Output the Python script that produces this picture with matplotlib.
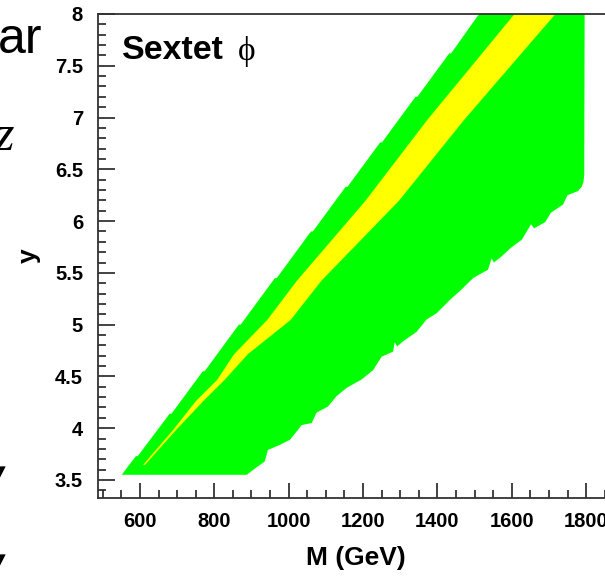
import matplotlib
matplotlib.use("Agg")
import matplotlib.pyplot as plt
from matplotlib.ticker import MultipleLocator

# Excluded region boundaries in the (M, y) plane
# outer region: left edge (bottom -> top)
green_left_y = [3.55, 3.73, 3.73, 4.14, 4.14, 4.55, 4.55, 5.00, 5.00, 5.45, 5.45,
                5.90, 5.90, 6.33, 6.33, 6.76, 6.76, 7.20, 7.20, 7.62, 7.62, 8.00]
green_left_M = [551, 589, 594, 680, 685, 769, 774, 866, 871, 963, 968,
                1060, 1065, 1153, 1158, 1246, 1251, 1341, 1346, 1432, 1437, 1512]
# outer region: right edge (top -> bottom)
green_right_y = [8.00, 6.45, 6.38, 6.33, 6.29, 6.25, 6.16, 6.08, 5.99, 5.93, 5.97, 5.82,
                 5.74, 5.66, 5.60, 5.64, 5.53, 5.45, 5.34, 5.24, 5.11, 5.05, 4.93,
                 4.84, 4.79, 4.83, 4.74, 4.69, 4.56, 4.47, 4.39, 4.31, 4.21, 4.15,
                 4.05, 4.03, 3.89, 3.84, 3.79, 3.68, 3.61, 3.55]
green_right_M = [1796, 1795, 1793, 1788, 1778, 1750, 1738, 1705, 1690, 1660, 1652, 1627,
                 1597, 1573, 1552, 1546, 1536, 1496, 1465, 1434, 1398, 1371, 1344,
                 1308, 1292, 1285, 1281, 1250, 1227, 1196, 1156, 1129, 1106, 1075,
                 1062, 1035, 1004, 977, 944, 936, 909, 887]

# inner region
yellow_y = [3.65, 3.98, 4.27, 4.47, 4.72, 5.05, 5.43, 6.20, 6.98, 8.00]
yellow_lo = [607, 686, 750, 806, 852, 941, 1021, 1205, 1371, 1605]
yellow_hi = [612, 694, 770, 826, 889, 1004, 1087, 1295, 1470, 1715]

x_ticks = [600, 800, 1000, 1200, 1400, 1600, 1800]
y_ticks = [3.5, 4, 4.5, 5, 5.5, 6, 6.5, 7, 7.5, 8]

W, H = 605, 576
fig = plt.figure(figsize=(W / 100, H / 100), dpi=100)
fig.patch.set_facecolor("white")

ax_left, ax_right_px, ax_top, ax_bottom = 98.3, 614.0, 14.0, 498.3
ax = fig.add_axes([ax_left / W, 1 - ax_bottom / H,
                   (ax_right_px - ax_left) / W, (ax_bottom - ax_top) / H])

ax.fill(green_left_M + green_right_M, green_left_y + green_right_y,
        color="#00ff00", lw=0, zorder=1)
ax.fill_betweenx(yellow_y, yellow_lo, yellow_hi, color="#ffff00", lw=0, zorder=2)

ax.set_xlim(488, 1875)
ax.set_ylim(3.323, 8.0)

tick_font = dict(family="Liberation Sans", weight="bold", size=14.5)
ax.set_xticks(x_ticks)
ax.set_xticklabels([str(v) for v in x_ticks], **tick_font)
ax.set_yticks(y_ticks)
ax.set_yticklabels([f"{v:g}" for v in y_ticks], **tick_font)
ax.xaxis.set_minor_locator(MultipleLocator(50))
ax.yaxis.set_minor_locator(MultipleLocator(0.1))

ax.tick_params(which="both", direction="in", color="#222222", width=1.2,
               top=False, right=False)
ax.tick_params(axis="y", which="major", length=12, pad=11)
ax.tick_params(axis="x", which="major", length=11, pad=10)
ax.tick_params(which="minor", length=5.8)

for side in ["left", "bottom", "top", "right"]:
    ax.spines[side].set_color("#333333")
    ax.spines[side].set_linewidth(1.3)

label_font = dict(family="Liberation Sans", weight="bold", size=19)
ax.set_xlabel("M (GeV)", va="center", **label_font)
ax.xaxis.set_label_coords(0.5, -(558 - ax_bottom) / (ax_bottom - ax_top))
ax.set_ylabel("y", va="center", **label_font)
ax.yaxis.set_label_coords(-(ax_left - 29) / (ax_right_px - ax_left), 0.5)

# panel title
fig.text(121.7 / W, 1 - 59.3 / H, "Sextet", family="Liberation Sans",
         weight="bold", size=24.4, ha="left", va="baseline")
fig.text(247 / W, 1 - 60 / H, "\u03d5", family=["Liberation Serif", "DejaVu Serif"],
         size=24, ha="center", va="baseline")

# neighbouring slide text at the left edge
fig.text(42 / W, 1 - 53 / H, "ar", family="Liberation Sans", size=36,
         ha="right", va="baseline")
fig.text(14 / W, 1 - 150 / H, "z", family="Liberation Serif", style="italic",
         size=36, ha="right", va="baseline")
for y_px in (472, 560):
    fig.text(0, 1 - y_px / H, "\u25bc", family="DejaVu Sans", size=11,
             ha="center", va="center")

fig.savefig("out.png", dpi=100)
